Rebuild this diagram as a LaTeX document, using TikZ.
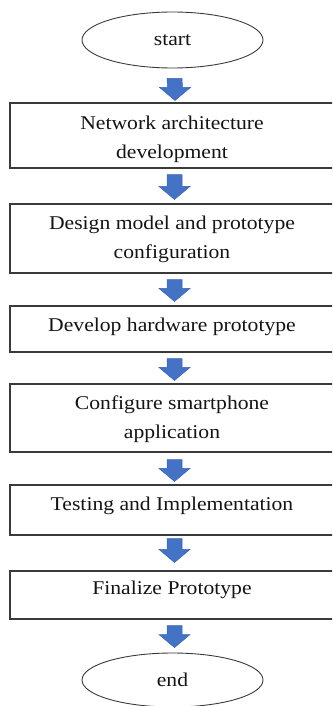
\documentclass[tikz,border=0pt]{standalone}
\usepackage{fontspec}
\setmainfont{Liberation Serif}[FakeStretch=1.11]
\usetikzlibrary{shapes.geometric,calc}
\definecolor{arrblue}{HTML}{4472C4}
\definecolor{arredge}{HTML}{3B64AD}
\definecolor{boxline}{HTML}{3A3A3A}
\newcommand\flowarrow[2]{%
  \path #1 coordinate (fa-s);
  \path #2 coordinate (fa-t);
  \filldraw[arr] ($(fa-s)+(-7.5,0)$) -- ($(fa-t)+(-7.5,-13)$) -- ($(fa-t)+(-15.5,-13)$) -- (fa-t)
    -- ($(fa-t)+(15.5,-13)$) -- ($(fa-t)+(7.5,-13)$) -- ($(fa-s)+(7.5,0)$) -- cycle;}
\begin{document}
\begin{tikzpicture}[x=1pt,y=-1pt,
  box/.style={draw=boxline, line width=1.1pt, minimum width=326pt, inner sep=0pt, rectangle},
  term/.style={draw=boxline, line width=0.9pt, ellipse, minimum width=181pt, minimum height=56pt, inner sep=0pt,
    font=\fontsize{19.5}{29}\selectfont, text=black!92},
  txt/.style={font=\fontsize{19.5}{29}\selectfont, text=black!92, align=center, inner sep=0pt},
  arr/.style={fill=arrblue, draw=arredge, line width=0.5pt, line join=miter}]
\useasboundingbox (0,0) rectangle (332,706);
\clip (0,0) rectangle (332,706);

\node[term] (start) at (172.5,40) {start};
\node[term, minimum height=54pt] (end) at (172.5,680) {end};

\node[box, minimum height=65pt] (b1) at (173,135.5) {};
\node[box, minimum height=69pt] (b2) at (173,238.5) {};
\node[box, minimum height=46pt] (b3) at (173,329) {};
\node[box, minimum height=68pt] (b4) at (173,418) {};
\node[box, minimum height=50pt] (b5) at (173,510) {};
\node[box, minimum height=48pt] (b6) at (173,595) {};

\node[txt, anchor=base] (t1) at (172,158) {Network architecture\\development};
\node[txt, anchor=base] (t2) at (172,258) {Design model and prototype\\configuration};
\node[txt, anchor=base] (t3) at (172,331) {Develop hardware prototype};
\node[txt, anchor=base] (t4) at (172,438) {Configure smartphone\\application};
\node[txt, anchor=base] (t5) at (172,510) {Testing and Implementation};
\node[txt, anchor=base] (t6) at (172,594) {Finalize Prototype};

\flowarrow{([xshift=2pt,yshift=-10pt]start.south)}{([xshift=2pt,yshift=2pt]b1.north)}
\flowarrow{([xshift=1.5pt,yshift=-6pt]b1.south)}{([xshift=1.5pt,yshift=4pt]b2.north)}
\flowarrow{([xshift=1.5pt,yshift=-6pt]b2.south)}{([xshift=1.5pt,yshift=4pt]b3.north)}
\flowarrow{([xshift=1.5pt,yshift=-6pt]b3.south)}{([xshift=1.5pt,yshift=3pt]b4.north)}
\flowarrow{([xshift=1.5pt,yshift=-7pt]b4.south)}{([xshift=1.5pt,yshift=3pt]b5.north)}
\flowarrow{([xshift=1.5pt,yshift=-3pt]b5.south)}{([xshift=1.5pt,yshift=8pt]b6.north)}
\flowarrow{([xshift=1.5pt,yshift=-6pt]b6.south)}{([xshift=2pt,yshift=5pt]end.north)}
\end{tikzpicture}
\end{document}
